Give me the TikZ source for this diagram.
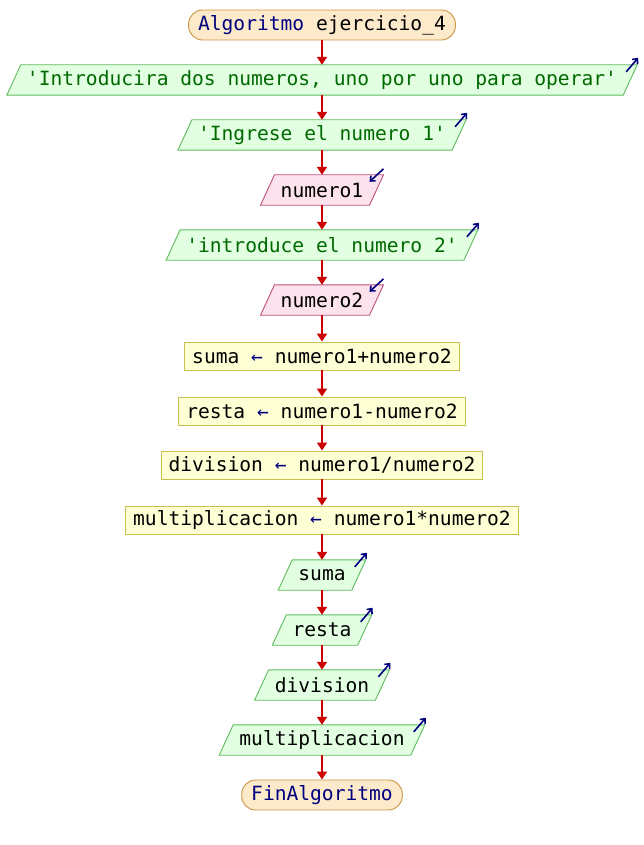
\documentclass[tikz,border=0pt]{standalone}
\usepackage{fontspec}
\setmonofont{DejaVu Sans Mono}
\usetikzlibrary{calc,arrows.meta,backgrounds}

\definecolor{navy}{HTML}{00007F}
\definecolor{flowred}{HTML}{CC0000}
\definecolor{txtgreen}{HTML}{006A00}
\definecolor{termfill}{HTML}{FCEACB}
\definecolor{termline}{HTML}{CC9444}
\definecolor{outfill}{HTML}{E2FFE2}
\definecolor{outline}{HTML}{5DBB5D}
\definecolor{infill}{HTML}{FCE2EC}
\definecolor{inline}{HTML}{C0507A}
\definecolor{procfill}{HTML}{FFFFD6}
\definecolor{procline}{HTML}{C8C050}

% parallelogram behind a node: name, fill, line
\newcommand\para[3]{\filldraw[fill=#2, draw=#3, line width=0.9pt]
  ($(#1.south west)+(-7,0)$) -- ($(#1.south east)+(-7,0)$)
  -- ($(#1.north east)+(7,0)$) -- ($(#1.north west)+(7,0)$) -- cycle;}
\newcommand\outicon[1]{\draw[icon] ($(#1.north east)+(-4,7)$) -- ++(12,-14);}
\newcommand\inicon[1]{\draw[icon] ($(#1.north east)+(7,-6)$) -- ++(-14,13);}
\newcommand\asig{{\color{navy}←}}

\begin{document}
\begin{tikzpicture}[x=1pt,y=-1pt,
  font=\ttfamily\fontsize{19.6}{22}\selectfont,
  term/.style={draw=termline, fill=termfill, line width=0.9pt, rounded corners=14pt,
    minimum height=30pt, inner xsep=9.5pt, text=navy},
  iobox/.style={minimum height=30pt, inner xsep=13pt},
  procbox/.style={draw=procline, fill=procfill, line width=0.9pt,
    minimum height=28pt, inner xsep=7.5pt},
  flow/.style={draw=flowred, line width=2pt, -{Triangle[length=8pt,width=10pt]}},
  icon/.style={draw=navy, line width=1.6pt, -{Straight Barb[length=4pt,width=7pt]}}]
  \useasboundingbox (0,0) rectangle (644,845);

  \node[term] (start) at (322,25) {Algoritmo \textcolor{black}{ejercicio\_4}};
  \node[iobox] (intro) at (322,80) {\textcolor{txtgreen}{'Introducira dos numeros, uno por uno para operar'}};
  \node[iobox] (msg1) at (322,135) {\textcolor{txtgreen}{'Ingrese el numero 1'}};
  \node[iobox] (num1) at (322,190) {numero1};
  \node[iobox] (msg2) at (322,245) {\textcolor{txtgreen}{'introduce el numero 2'}};
  \node[iobox] (num2) at (322,300) {numero2};
  \node[procbox] (sum) at (322,356) {suma \asig{} numero1+numero2};
  \node[procbox] (res) at (322,411) {resta \asig{} numero1-numero2};
  \node[procbox] (div) at (322,465) {division \asig{} numero1/numero2};
  \node[procbox] (mul) at (322,520) {multiplicacion \asig{} numero1*numero2};
  \node[iobox] (osum) at (322,575) {suma};
  \node[iobox] (ores) at (322,630) {resta};
  \node[iobox] (odiv) at (322,685) {division};
  \node[iobox] (omul) at (322,740) {multiplicacion};
  \node[term] (stop) at (322,795) {FinAlgoritmo};

  \begin{pgfonlayer}{background}
    \para{intro}{outfill}{outline}
    \para{msg1}{outfill}{outline}
    \para{num1}{infill}{inline}
    \para{msg2}{outfill}{outline}
    \para{num2}{infill}{inline}
    \para{osum}{outfill}{outline}
    \para{ores}{outfill}{outline}
    \para{odiv}{outfill}{outline}
    \para{omul}{outfill}{outline}
  \end{pgfonlayer}

  % flujo
  \draw[flow] (start) -- (intro);
  \draw[flow] (intro) -- (msg1);
  \draw[flow] (msg1) -- (num1);
  \draw[flow] (num1) -- (msg2);
  \draw[flow] (msg2) -- (num2);
  \draw[flow] (num2) -- (sum);
  \draw[flow] (sum) -- (res);
  \draw[flow] (res) -- (div);
  \draw[flow] (div) -- (mul);
  \draw[flow] (mul) -- (osum);
  \draw[flow] (osum) -- (ores);
  \draw[flow] (ores) -- (odiv);
  \draw[flow] (odiv) -- (omul);
  \draw[flow] (omul) -- (stop);

  % iconos de entrada/salida
  \outicon{intro} \outicon{msg1} \outicon{msg2}
  \inicon{num1} \inicon{num2}
  \outicon{osum} \outicon{ores} \outicon{odiv} \outicon{omul}
\end{tikzpicture}
\end{document}
